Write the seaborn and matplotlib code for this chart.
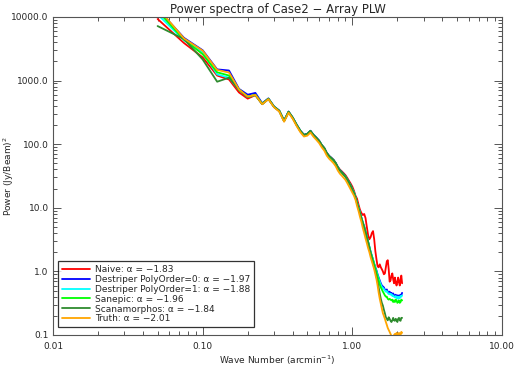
import numpy as np
import pandas as pd
import matplotlib
matplotlib.use("Agg")
import matplotlib.pyplot as plt
import seaborn as sns
from matplotlib.ticker import LogLocator, NullFormatter

# wave number bins (arcmin^-1)
wavenumber = [
    0.050, 0.075, 0.100, 0.125, 0.150, 0.175, 0.200, 0.225, 0.250, 0.275,
    0.300, 0.325, 0.350, 0.375, 0.400, 0.425, 0.450, 0.475, 0.500, 0.525,
    0.550, 0.575, 0.600, 0.625, 0.650, 0.675, 0.700, 0.725, 0.750, 0.775,
    0.800, 0.825, 0.850, 0.875, 0.900, 0.925, 0.950, 0.975, 1.000, 1.025,
    1.050, 1.075, 1.100, 1.125, 1.150, 1.175, 1.200, 1.225, 1.250, 1.275,
    1.300, 1.325, 1.350, 1.375, 1.400, 1.425, 1.450, 1.475, 1.500, 1.525,
    1.550, 1.575, 1.600, 1.625, 1.650, 1.675, 1.700, 1.725, 1.750, 1.775,
    1.800, 1.825, 1.850, 1.875, 1.900, 1.925, 1.950, 1.975, 2.000, 2.025,
    2.050, 2.075, 2.100, 2.125, 2.150,
]

naive = [
    9300, 3900, 2320, 1200, 1040,
    650, 520, 590, 425, 512, 383, 330, 229, 318, 255,
    197, 159, 138, 143, 160, 139, 125, 112, 96, 86,
    72.5, 65, 60.5, 56, 50.5, 44, 40, 37.5, 35, 32.5,
    29.5, 26.5, 24,
    21.5, 18.6, 15.5, 13.9, 11.2, 9.3, 8.3, 7.7, 8.0, 6.9,
    5.0, 3.7, 3.2, 3.46, 4.0, 4.3, 3.2,
    2.08, 1.55, 1.2, 1.16, 1.29, 1.16, 1.08, 1.0, 0.90, 0.93,
    1.16, 1.44, 1.5, 1.08, 0.69, 0.72, 0.86, 0.93, 0.75, 0.65,
    0.80, 0.67, 0.60, 0.69, 0.80, 0.67, 0.60, 0.75, 0.86, 0.65,
]

destriper0 = [
    13400, 4700, 3000, 1500, 1440,
    740, 600, 640, 440, 525, 392, 338, 236, 326, 262,
    203, 163, 141, 146, 163, 141, 127, 114, 97, 87,
    73, 65.5, 61, 56.5, 50.5, 43.8, 39.3, 36.5, 33.9, 31.4,
    28.2, 25.3, 22.6,
    19.6, 17.6, 14.6, 12.2, 10.2, 8.4, 7.0, 5.9, 5.1, 4.2,
    3.5, 2.93, 2.44, 2.03, 1.76, 1.53, 1.32,
    1.16, 1.04, 0.90, 0.80, 0.72, 0.65, 0.60, 0.58, 0.56, 0.52,
    0.50, 0.52, 0.48, 0.46, 0.48, 0.45, 0.46, 0.43, 0.45, 0.42,
    0.40, 0.43, 0.40, 0.42, 0.39, 0.42, 0.40, 0.43, 0.42, 0.46,
]

destriper1 = [
    11000, 4300, 2780, 1250, 1110,
    715, 550, 595, 428, 515, 385, 332, 230, 320, 257,
    199, 160, 138, 143, 160, 138, 124, 111, 95, 85,
    71, 64, 59.5, 55, 49.5, 42.8, 38.5, 35.8, 33.2, 30.8,
    27.6, 24.8, 22.2,
    19.5, 17.5, 14.5, 12.1, 10.1, 8.35, 6.95, 5.85, 5.05, 4.18,
    3.48, 2.91, 2.42, 2.02, 1.75, 1.52, 1.31,
    1.12, 1.0, 0.87, 0.77, 0.69, 0.62, 0.57, 0.55, 0.53, 0.50,
    0.48, 0.49, 0.46, 0.44, 0.45, 0.43, 0.44, 0.41, 0.42, 0.40,
    0.39, 0.41, 0.38, 0.40, 0.37, 0.40, 0.38, 0.41, 0.40, 0.42,
]

sanepic = [
    12500, 4400, 2600, 1350, 1200,
    720, 557, 600, 431, 518, 387, 334, 232, 322, 259,
    200, 161, 139, 144, 161, 139, 125, 112, 96, 86,
    72, 64.6, 60, 55.7, 49.9, 43.1, 38.7, 36, 33.4, 31,
    27.8, 24.9, 22.3,
    19.3, 17.3, 14.4, 12.0, 10.0, 8.3, 6.9, 5.8, 5.0, 4.16,
    3.46, 2.89, 2.40, 2.0, 1.73, 1.50, 1.29, 1.12, 0.96, 0.83,
    0.72, 0.62, 0.56, 0.52, 0.48, 0.45, 0.42, 0.40, 0.40, 0.37,
    0.36, 0.37, 0.36, 0.35, 0.36, 0.33, 0.35, 0.33, 0.36, 0.35,
    0.32, 0.33, 0.35, 0.32, 0.33, 0.36, 0.35,
]

scanamorphos = [
    7200, 4500, 2150, 960, 1110,
    710, 550, 590, 428, 520, 388, 336, 234, 325, 261,
    201, 162, 140, 145, 162, 140, 126, 113, 97, 87,
    72.5, 65, 60.5, 56, 50, 43, 38.5, 35.8, 33, 30.6,
    27.5, 24.6, 22,
    19.0, 17.0, 14.2, 11.8, 9.8, 8.1, 6.8, 5.7, 4.9, 4.1, 3.4, 2.85,
    2.32, 1.93, 1.61, 1.34, 1.16, 1.0, 0.83, 0.69, 0.56, 0.45,
    0.37, 0.32, 0.29, 0.25, 0.22, 0.19, 0.18, 0.17, 0.19, 0.18,
    0.167, 0.16, 0.17, 0.186, 0.17, 0.167, 0.18, 0.17, 0.16, 0.18,
    0.186, 0.17, 0.167, 0.186, 0.186,
]

truth = [
    14000, 4600, 2950, 1470, 1340,
    725, 560, 595, 425, 510, 380, 326, 226, 313, 250,
    192, 154, 132, 136, 152, 131, 117, 104, 89, 79,
    66, 59, 54.5, 50, 44.8, 38.5, 34.5, 32, 29.6, 27.4,
    24.5, 21.8, 19.4,
    17.3, 15.5, 13.4, 10.7, 8.9, 7.2, 6.0, 4.8, 4.0, 3.3,
    2.78, 2.32, 2.0, 1.67, 1.44, 1.25, 1.08,
    0.90, 0.75, 0.60, 0.46, 0.37, 0.31, 0.26, 0.22, 0.20, 0.18,
    0.16, 0.144, 0.129, 0.12, 0.112, 0.104, 0.096, 0.09, 0.093, 0.1,
    0.104, 0.1, 0.108, 0.104, 0.096, 0.108, 0.104, 0.1, 0.112, 0.108,
]

labels = [
    "Naive: α = −1.83",
    "Destriper PolyOrder=0: α = −1.97",
    "Destriper PolyOrder=1: α = −1.88",
    "Sanepic: α = −1.96",
    "Scanamorphos: α = −1.84",
    "Truth: α = −2.01",
]
colors = ["#ff0000", "#0000ff", "#00ffff", "#00ff00", "#2e8b2e", "#ffa500"]
series = [naive, destriper0, destriper1, sanepic, scanamorphos, truth]

df = pd.concat(
    [pd.DataFrame({"k": wavenumber, "power": s, "method": lab})
     for s, lab in zip(series, labels)],
    ignore_index=True,
)

sns.set_style("ticks")
plt.rcParams["font.family"] = ["DejaVu Sans"]

fig = plt.figure(figsize=(5.18, 3.70), dpi=100)
ax = fig.add_axes([0.1023, 0.0946, 0.8668, 0.8595])

sns.lineplot(data=df, x="k", y="power", hue="method", hue_order=labels,
             palette=colors, linewidth=1.3, estimator=None, sort=False, ax=ax)

ax.set_xscale("log")
ax.set_yscale("log")
ax.set_xlim(0.01, 10)
ax.set_ylim(0.1, 10000)

ax.set_xticks([0.01, 0.1, 1, 10], ["0.01", "0.10", "1.00", "10.00"])
ax.set_yticks([0.1, 1, 10, 100, 1000, 10000],
              ["0.1", "1.0", "10.0", "100.0", "1000.0", "10000.0"])
for axis in (ax.xaxis, ax.yaxis):
    axis.set_minor_locator(LogLocator(base=10, subs=np.arange(2, 10)))
    axis.set_minor_formatter(NullFormatter())

ax.tick_params(which="both", direction="in", top=True, right=True,
               labelsize=6.5, color="#555555", width=0.7)
ax.tick_params(which="major", length=6)
ax.tick_params(which="minor", length=3)
ax.tick_params(axis="x", pad=5)
ax.tick_params(axis="y", pad=3)
for sp in ax.spines.values():
    sp.set_color("#555555")
    sp.set_linewidth(0.8)
    sp.set_visible(True)

ax.set_xlabel("Wave Number (arcmin$^{-1}$)", fontsize=6.5, labelpad=2)
ax.set_ylabel("Power (Jy/Beam)$^2$", fontsize=6.5)
ax.yaxis.set_label_coords(-0.082, 0.5)
ax.set_title("Power spectra of Case2 − Array PLW", fontsize=8.5, pad=3)

leg = ax.legend(loc="lower left", bbox_to_anchor=(0.011, 0.025),
                borderaxespad=0, frameon=True, fancybox=False,
                edgecolor="black", fontsize=6.5, handlelength=3.2,
                borderpad=0.4, labelspacing=0.1, handletextpad=0.5)
leg.get_frame().set_linewidth(0.9)
for h in leg.get_lines():
    h.set_linewidth(1.3)

fig.savefig("out.png", dpi=100)
